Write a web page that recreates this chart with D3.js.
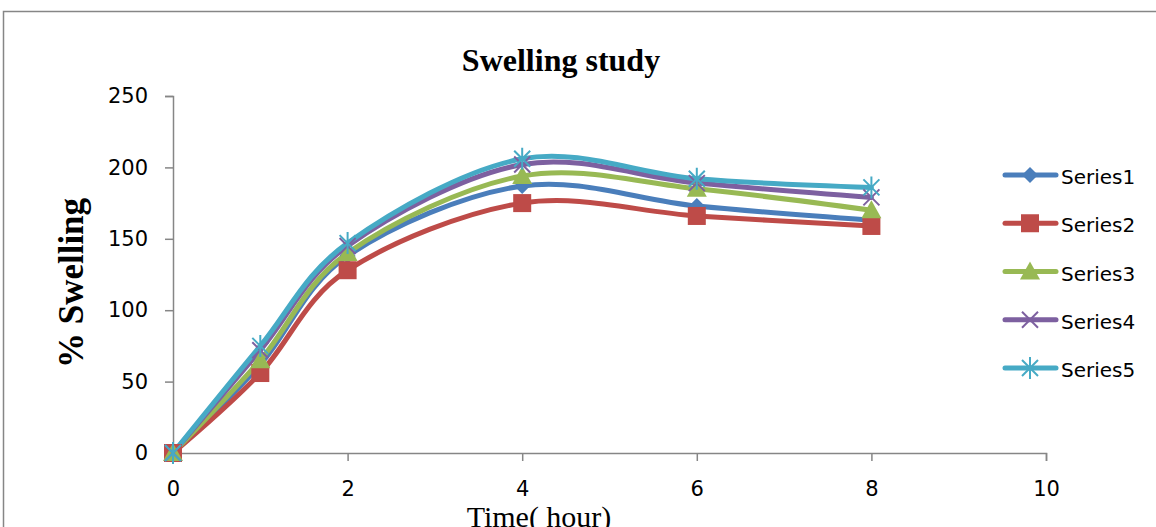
<!DOCTYPE html>
<html>
<head>
<meta charset="utf-8">
<script src="https://cdn.jsdelivr.net/npm/d3@7"></script>
<style>
  body { margin: 0; background: #fff; }
</style>
</head>
<body>
<div id="chart"></div>
<script>
// data
var hours = [0, 1, 2, 4, 6, 8];
var series1 = [0, 62, 138, 187, 173, 163];
var series2 = [0, 56, 128, 175, 166, 159];
var series3 = [0, 65, 140, 194, 185, 170];
var series4 = [0, 72, 145, 202, 189, 179];
var series5 = [0, 75, 147, 206, 192, 186];
var seriesNames = ["Series1", "Series2", "Series3", "Series4", "Series5"];
var xTicks = [0, 2, 4, 6, 8, 10];
var yTicks = [0, 50, 100, 150, 200, 250];

var colors = ["#4a7ebb", "#be4b48", "#98b954", "#7d60a0", "#46aac5"];
var shapes = ["diamond", "square", "triangle", "cross", "star"];
var allSeries = [series1, series2, series3, series4, series5];

var W = 1156, H = 527;
var svg = d3.select("#chart").append("svg")
  .attr("width", W).attr("height", H);

// chart border
svg.append("rect")
  .attr("x", 3.5).attr("y", 11.5)
  .attr("width", W + 10).attr("height", H)
  .attr("fill", "none").attr("stroke", "#868686").attr("stroke-width", 1.5);

var x = d3.scaleLinear().domain([0, 10]).range([173, 1046]);
var y = d3.scaleLinear().domain([0, 250]).range([453, 96]);

// axes
var gx = svg.append("g")
  .attr("transform", "translate(0,453)")
  .call(d3.axisBottom(x).tickValues(xTicks).tickSize(8).tickPadding(20));
var gy = svg.append("g")
  .attr("transform", "translate(173,0)")
  .call(d3.axisLeft(y).tickValues(yTicks).tickSize(8).tickPadding(17));

[gx, gy].forEach(function(g) {
  g.selectAll("path, line").attr("stroke", "#868686").attr("stroke-width", 1.5);
  g.selectAll("text")
    .style("font-family", "'DejaVu Sans', sans-serif")
    .style("font-size", "21px")
    .attr("fill", "#000");
});

// title and labels
svg.append("text")
  .attr("x", 561).attr("y", 71)
  .attr("text-anchor", "middle")
  .style("font-family", "'Liberation Serif', serif")
  .style("font-weight", "bold")
  .style("font-size", "32px")
  .text("Swelling study");

svg.append("text")
  .attr("transform", "translate(83,283) rotate(-90)")
  .attr("text-anchor", "middle")
  .style("font-family", "'Liberation Serif', serif")
  .style("font-weight", "bold")
  .style("font-size", "35px")
  .text("% Swelling");

svg.append("text")
  .attr("x", 539).attr("y", 527)
  .attr("text-anchor", "middle")
  .style("font-family", "'Liberation Serif', serif")
  .style("font-size", "30px")
  .text("Time( hour)");

var line = d3.line()
  .x(function(d) { return x(d.t); })
  .y(function(d) { return y(d.v); })
  .curve(d3.curveCardinal.tension(0));

function drawMarker(g, shape, color, cx, cy) {
  if (shape == "diamond") {
    g.append("path")
      .attr("d", "M" + cx + "," + (cy - 8) + "L" + (cx + 8) + "," + cy + "L" + cx + "," + (cy + 8) + "L" + (cx - 8) + "," + cy + "Z")
      .attr("fill", color);
  } else if (shape == "square") {
    g.append("rect")
      .attr("x", cx - 9).attr("y", cy - 9).attr("width", 18).attr("height", 18)
      .attr("fill", color);
  } else if (shape == "triangle") {
    g.append("path")
      .attr("d", "M" + cx + "," + (cy - 10) + "L" + (cx + 10) + "," + (cy + 8) + "L" + (cx - 10) + "," + (cy + 8) + "Z")
      .attr("fill", color);
  } else if (shape == "cross") {
    g.append("path")
      .attr("d", "M" + (cx - 8) + "," + (cy - 8) + "L" + (cx + 8) + "," + (cy + 8) + "M" + (cx + 8) + "," + (cy - 8) + "L" + (cx - 8) + "," + (cy + 8))
      .attr("stroke", color).attr("stroke-width", 2).attr("fill", "none");
  } else {
    g.append("path")
      .attr("d", "M" + (cx - 8) + "," + (cy - 8) + "L" + (cx + 8) + "," + (cy + 8) + "M" + (cx + 8) + "," + (cy - 8) + "L" + (cx - 8) + "," + (cy + 8) +
        "M" + cx + "," + (cy - 11) + "L" + cx + "," + (cy + 11))
      .attr("stroke", color).attr("stroke-width", 2).attr("fill", "none");
  }
}

allSeries.forEach(function(vals, i) {
  var pts = hours.map(function(t, j) { return {t: t, v: vals[j]}; });
  svg.append("path")
    .datum(pts)
    .attr("fill", "none")
    .attr("stroke", colors[i])
    .attr("stroke-width", 5)
    .attr("stroke-linecap", "round")
    .attr("d", line);
});

allSeries.forEach(function(vals, i) {
  var g = svg.append("g");
  hours.forEach(function(t, j) {
    drawMarker(g, shapes[i], colors[i], x(t), y(vals[j]));
  });
});

// legend
seriesNames.forEach(function(name, i) {
  var ly = 175 + i * 48.25;
  var g = svg.append("g");
  g.append("line")
    .attr("x1", 1005).attr("x2", 1056).attr("y1", ly).attr("y2", ly)
    .attr("stroke", colors[i]).attr("stroke-width", 5).attr("stroke-linecap", "round");
  drawMarker(g, shapes[i], colors[i], 1030, ly);
  g.append("text")
    .attr("x", 1061).attr("y", ly + 9)
    .style("font-family", "'DejaVu Sans', sans-serif")
    .style("font-size", "20px")
    .text(name);
});
</script>
</body>
</html>
